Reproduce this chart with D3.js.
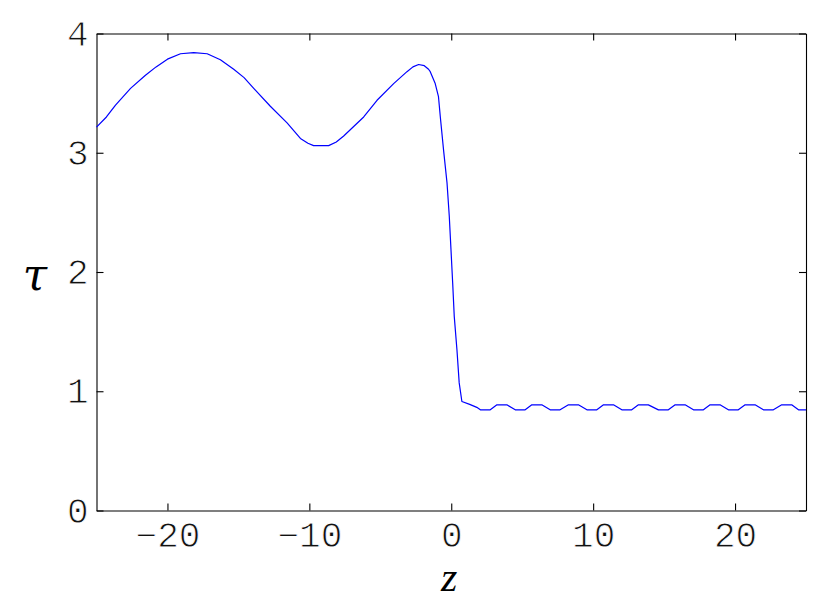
<!DOCTYPE html>
<html>
<head>
<meta charset="utf-8">
<script src="https://cdn.jsdelivr.net/npm/d3@7"></script>
<style>
  html, body { margin: 0; padding: 0; background: #fff; }
  svg { display: block; }
</style>
</head>
<body>
<svg id="chart" width="830" height="615"></svg>
<script>
// ---- data ----
const zValues = [
  -25, -24.3, -23.66, -22.6, -21.55, -20.8, -20.0, -19.08, -18.15, -17.2,
  -16.27, -15.33, -14.6, -13.92, -12.75, -11.57, -10.63, -10.1, -9.7, -8.64,
  -8.1, -7.58, -6.17, -5.23, -4.06, -3.12, -2.7, -2.3, -1.9, -1.6,
  -1.48, -1.13, -0.9, -0.77, -0.54, -0.3, -0.14, -0.02, 0.1, 0.21,
  0.4, 0.56, 0.75, 1.3, 1.8, 2.05, 2.75,
  3.22, 3.92, 4.51, 5.21, 5.68, 6.38, 6.97, 7.67, 8.26, 8.96,
  9.56, 10.26, 10.73, 11.43, 12.02, 12.72, 13.19, 13.89, 14.6, 15.3,
  15.78, 16.48, 17.07, 17.77, 18.24, 18.94, 19.53, 20.23, 20.71, 21.41,
  22.0, 22.7, 23.29, 23.99, 24.47, 25.0
];
const tauValues = [
  3.215, 3.30, 3.40, 3.54, 3.65, 3.72, 3.785, 3.83, 3.84, 3.83,
  3.78, 3.70, 3.63, 3.54, 3.39, 3.25, 3.12, 3.08, 3.06, 3.06,
  3.09, 3.14, 3.30, 3.44, 3.58, 3.68, 3.72, 3.74, 3.73, 3.70,
  3.68, 3.58, 3.47, 3.30, 3.02, 2.75, 2.47, 2.19, 1.91, 1.63,
  1.35, 1.07, 0.914, 0.89, 0.865, 0.844, 0.844,
  0.886, 0.886, 0.844, 0.844, 0.886, 0.886, 0.844, 0.844, 0.886, 0.886,
  0.844, 0.844, 0.886, 0.886, 0.844, 0.844, 0.886, 0.886, 0.844, 0.844,
  0.886, 0.886, 0.844, 0.844, 0.886, 0.886, 0.844, 0.844, 0.886, 0.886,
  0.844, 0.844, 0.886, 0.886, 0.844, 0.844
];
const xTicks = [-20, -10, 0, 10, 20];
const yTicks = [0, 1, 2, 3, 4];
const xDomain = [-25, 25];
const yDomain = [0, 4];
const xLabel = "z";
const yLabel = "τ";

// ---- layout ----
const svg = d3.select("#chart");
const pLeft = 96.5, pRight = 806, pTop = 33.5, pBottom = 510.5;

const x = d3.scaleLinear().domain(xDomain).range([pLeft, pRight]);
const y = d3.scaleLinear().domain(yDomain).range([pBottom, pTop]);

const tickFont = "'Liberation Mono', 'DejaVu Sans Mono', monospace";
const fmt = d3.format("d");

function styleAxis(g, showLabels) {
  g.selectAll("path.domain").attr("stroke", "#000").attr("stroke-width", 1.1);
  g.selectAll(".tick line").attr("stroke", "#000").attr("stroke-width", 1.1);
  g.selectAll(".tick text")
    .attr("fill", "#111")
    .attr("stroke", "#fff")
    .attr("stroke-width", 0.9)
    .style("font-family", tickFont)
    .style("font-size", "36px");
  if (!showLabels) g.selectAll(".tick text").remove();
}

// bottom
svg.append("g")
  .attr("transform", `translate(0,${pBottom})`)
  .call(d3.axisBottom(x).tickValues(xTicks).tickFormat(fmt).tickSizeInner(-7).tickSizeOuter(0).tickPadding(11))
  .call(g => styleAxis(g, true));
// top
svg.append("g")
  .attr("transform", `translate(0,${pTop})`)
  .call(d3.axisTop(x).tickValues(xTicks).tickSizeInner(-7).tickSizeOuter(0))
  .call(g => styleAxis(g, false));
// left
svg.append("g")
  .attr("transform", `translate(${pLeft},0)`)
  .call(d3.axisLeft(y).tickValues(yTicks).tickFormat(fmt).tickSizeInner(-7).tickSizeOuter(0).tickPadding(8))
  .call(g => styleAxis(g, true));
// right
svg.append("g")
  .attr("transform", `translate(${pRight},0)`)
  .call(d3.axisRight(y).tickValues(yTicks).tickSizeInner(-7).tickSizeOuter(0))
  .call(g => styleAxis(g, false));

// ---- line ----
const pts = zValues.map((z, i) => [z, tauValues[i]]);
const line = d3.line().x(d => x(d[0])).y(d => y(d[1])).curve(d3.curveLinear);
svg.append("path")
  .datum(pts)
  .attr("d", line)
  .attr("fill", "none")
  .attr("stroke", "#0000ff")
  .attr("stroke-width", 1.2)
  .attr("stroke-linejoin", "round");

// ---- axis titles ----
svg.append("text")
  .attr("x", (pLeft + pRight) / 2 - 2)
  .attr("y", 591)
  .attr("text-anchor", "middle")
  .style("font-family", "'Liberation Serif', 'DejaVu Serif', serif")
  .style("font-style", "italic")
  .style("font-size", "42px")
  .text(xLabel);

svg.append("text")
  .attr("x", 35)
  .attr("y", 290)
  .attr("text-anchor", "middle")
  .style("font-family", "'DejaVu Serif', 'Liberation Serif', serif")
  .style("font-style", "italic")
  .style("font-size", "44px")
  .text(yLabel);
</script>
</body>
</html>
